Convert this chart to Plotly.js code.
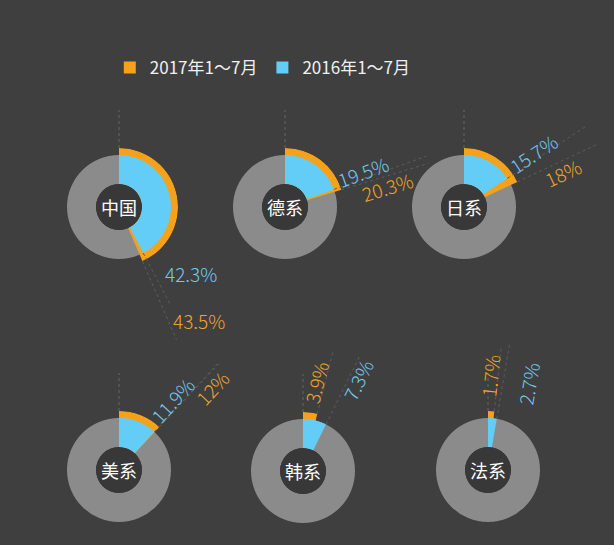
<!DOCTYPE html>
<html><head><meta charset="utf-8">
<script src="https://cdn.plot.ly/plotly-3.0.1.min.js"></script>
<style>html,body{margin:0;padding:0;background:#3f3f3f;}</style>
</head><body><div id="chart" style="width:614px;height:545px;"></div>
<script>
// ---- data ----
const brands = ['中国','德系','日系','美系','韩系','法系'];
const share2017 = [43.5, 20.3, 18, 12, 3.9, 1.7];
const share2016 = [42.3, 19.5, 15.7, 11.9, 7.3, 2.7];
const seriesNames = ['2017年1～7月','2016年1～7月'];

// ---- style / layout ----
const W = 614, H = 545;
const BG = '#3f3f3f', HOLE = '#383838', GRAY = '#8b8b8b';
const ORANGE = '#f5a11a', BLUE = '#63cdf7';
const ORANGE_TXT = '#f2a42a', BLUE_TXT = '#72c9f0';
const FONT = '"Noto Sans CJK SC","Noto Sans",sans-serif';
const centerX = [119, 285, 464, 119, 303, 488];
const centerY = [207, 207, 207, 470, 471, 470];
const R_HOLE = 23, R_RING = 52, R_OUT = 59, R_TOPLINE = 97;
const labelDist2017 = [136, 104, 104, 124, 89, 94];
const labelOff2017  = [-28, 10, 10.5, 11, -9, -8];
const labelDist2016 = [92, 85, 87, 87, 106, 92];
const labelOff2016  = [-33, -7, -7, -9, 9, 25];
const lineEnd2017 = [145, 150, 148, 148, 125, 125];
const lineEnd2016 = [110, 150, 148, 148, 130, 130];

const px = x => x / W;
const py = y => 1 - y / H;
function polarPoint(i, deg, r) {
  const a = deg * Math.PI / 180;
  return [centerX[i] + r * Math.sin(a), centerY[i] - r * Math.cos(a)];
}

const traces = [], shapes = [], annotations = [];
const layout = {
  width: W, height: H,
  margin: {l: 0, r: 0, t: 0, b: 0},
  paper_bgcolor: BG, plot_bgcolor: BG,
  font: {family: FONT, color: '#eeeeee'},
  showlegend: true,
  legend: {orientation: 'h', x: 0.428, xanchor: 'center', y: py(68), yanchor: 'middle',
           font: {size: 17, color: '#f0f0f0', family: FONT}, bgcolor: 'rgba(0,0,0,0)'},
  shapes: shapes, annotations: annotations
};

brands.forEach((b, i) => {
  const sp = i === 0 ? 'polar' : 'polar' + (i + 1);
  const cx = centerX[i], cy = centerY[i];
  layout[sp] = {
    domain: {x: [px(cx - R_OUT), px(cx + R_OUT)], y: [py(cy + R_OUT), py(cy - R_OUT)]},
    hole: R_HOLE / R_OUT,
    bgcolor: 'rgba(0,0,0,0)',
    barmode: 'overlay',
    radialaxis: {visible: false, range: [0, R_OUT - R_HOLE]},
    angularaxis: {visible: false, rotation: 90, direction: 'clockwise'}
  };
  traces.push({type: 'barpolar', subplot: sp, r: [R_RING - R_HOLE], theta: [180], width: [360],
    marker: {color: GRAY, line: {width: 0}}, showlegend: false, hoverinfo: 'skip'});
  traces.push({type: 'barpolar', subplot: sp, name: seriesNames[0], legendgroup: 'y2017',
    r: [R_OUT - R_HOLE], theta: [share2017[i] * 1.8], width: [share2017[i] * 3.6],
    marker: {color: ORANGE, line: {width: 0}}, showlegend: i === 0});
  traces.push({type: 'barpolar', subplot: sp, name: seriesNames[1], legendgroup: 'y2016',
    r: [R_RING - R_HOLE], theta: [share2016[i] * 1.8], width: [share2016[i] * 3.6],
    marker: {color: BLUE, line: {width: 0}}, showlegend: i === 0});

  // hole fill
  shapes.push({type: 'circle', xref: 'paper', yref: 'paper', layer: 'below',
    x0: px(cx - R_HOLE), x1: px(cx + R_HOLE), y0: py(cy + R_HOLE), y1: py(cy - R_HOLE),
    fillcolor: HOLE, line: {width: 0}});
  // top dotted line
  shapes.push({type: 'line', xref: 'paper', yref: 'paper',
    x0: px(cx), x1: px(cx), y0: py(cy - R_OUT), y1: py(cy - R_TOPLINE),
    line: {color: '#666666', width: 1, dash: 'dot'}});

  // leader lines + labels
  const series = [
    {v: share2017[i], r0: R_OUT, r1: lineEnd2017[i], d: labelDist2017[i], off: labelOff2017[i], col: ORANGE_TXT},
    {v: share2016[i], r0: R_RING, r1: lineEnd2016[i], d: labelDist2016[i], off: labelOff2016[i], col: BLUE_TXT}
  ];
  series.forEach(s => {
    const deg = s.v * 3.6;
    const p0 = polarPoint(i, deg, s.r0), p1 = polarPoint(i, deg, s.r1);
    shapes.push({type: 'line', xref: 'paper', yref: 'paper',
      x0: px(p0[0]), y0: py(p0[1]), x1: px(p1[0]), y1: py(p1[1]),
      line: {color: '#5c5c5c', width: 1, dash: 'dot'}});
    const a = deg * Math.PI / 180;
    const dir = [Math.sin(a), -Math.cos(a)], perp = [Math.cos(a), Math.sin(a)];
    const tx = cx + s.d * dir[0] + s.off * perp[0];
    const ty = cy + s.d * dir[1] + s.off * perp[1];
    annotations.push({xref: 'paper', yref: 'paper', x: px(tx), y: py(ty),
      xanchor: 'center', yanchor: 'middle', showarrow: false,
      text: s.v + '%', textangle: deg > 90 ? 0 : deg - 90,
      font: {size: 19, color: s.col, family: FONT, weight: 300}});
  });

  annotations.push({xref: 'paper', yref: 'paper', x: px(cx), y: py(cy),
    xanchor: 'center', yanchor: 'middle', showarrow: false, text: b,
    font: {size: 18, color: '#ffffff', family: FONT}});
});

Plotly.newPlot('chart', traces, layout, {displayModeBar: false, staticPlot: true});
</script>
</body></html>
